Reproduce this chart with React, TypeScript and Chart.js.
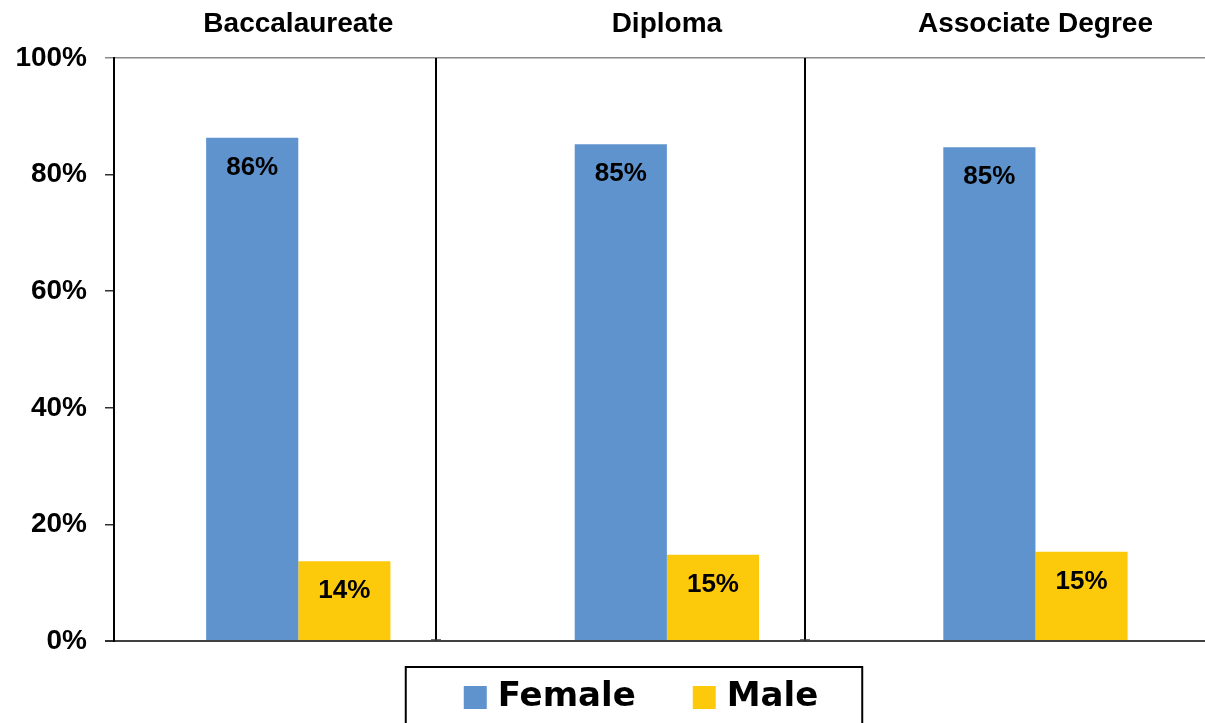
import React, { useEffect, useRef } from 'react';
import { Chart, registerables } from 'chart.js';

Chart.register(...registerables);

const categories = ['Baccalaureate', 'Diploma', 'Associate Degree'];
const seriesNames = ['Female', 'Male'];
const femaleValues = [86.3, 85.2, 84.7];
const maleValues = [13.7, 14.8, 15.3];
const seriesColors = ['#5E93CD', '#FDCA0B'];
const yTickLabels = ['0%', '20%', '40%', '60%', '80%', '100%'];

const FONT = '"Liberation Sans", Arial, sans-serif';
const LEGEND_FONT = '"DejaVu Sans", sans-serif';

export default function App() {
  const ref = useRef<HTMLCanvasElement | null>(null);

  useEffect(() => {
    document.body.style.margin = '0';
    const canvas = ref.current;
    if (!canvas) return;

    const dataLabels = {
      id: 'dataLabels',
      afterDatasetsDraw(chart: any) {
        const ctx = chart.ctx;
        ctx.save();
        ctx.font = `bold 26px ${FONT}`;
        ctx.fillStyle = '#000';
        ctx.textAlign = 'center';
        ctx.textBaseline = 'middle';
        chart.data.datasets.forEach((ds: any, i: number) => {
          const meta = chart.getDatasetMeta(i);
          meta.data.forEach((bar: any, j: number) => {
            const v = ds.data[j].y;
            ctx.fillText(`${Math.round(v)}%`, bar.x, bar.y + 30);
          });
        });
        ctx.restore();
      },
    };

    const dividers = {
      id: 'dividers',
      afterDatasetsDraw(chart: any) {
        const ctx = chart.ctx;
        const xs = chart.scales.x;
        const { top, bottom } = chart.chartArea;
        ctx.save();
        ctx.strokeStyle = '#000';
        ctx.lineWidth = 2;
        for (let i = 0; i < categories.length - 1; i++) {
          const px = Math.round(xs.getPixelForValue(i + 0.374));
          ctx.beginPath();
          ctx.moveTo(px, top);
          ctx.lineTo(px, bottom);
          ctx.stroke();
          ctx.beginPath();
          ctx.lineWidth = 1.5;
          ctx.strokeStyle = '#404040';
          ctx.moveTo(px - 5, bottom - 1);
          ctx.lineTo(px + 5, bottom - 1);
          ctx.stroke();
          ctx.lineWidth = 2;
          ctx.strokeStyle = '#000';
        }
        ctx.restore();
      },
    };

    const boxedLegend = {
      id: 'boxedLegend',
      afterDraw(chart: any) {
        const ctx = chart.ctx;
        const base = chart.chartArea.bottom;
        const sq = 23;
        const gap = 11;
        const itemGap = 57;
        const centerX = 641;
        ctx.save();
        ctx.font = `bold 34px ${LEGEND_FONT}`;
        const items = chart.data.datasets.map((d: any) => ({
          label: d.label,
          color: d.backgroundColor,
          w: ctx.measureText(d.label).width,
        }));
        const total =
          items.reduce((a: number, it: any) => a + sq + gap + it.w, 0) +
          itemGap * (items.length - 1);
        let x = centerX - total / 2;
        const boxLeft = x - 58;
        const boxRight = x + total + 44;
        const boxTop = base + 26;
        ctx.strokeStyle = '#000';
        ctx.lineWidth = 2;
        ctx.strokeRect(boxLeft, boxTop, boxRight - boxLeft, chart.height + 10 - boxTop);
        ctx.textBaseline = 'alphabetic';
        ctx.textAlign = 'left';
        items.forEach((it: any) => {
          ctx.fillStyle = it.color;
          ctx.fillRect(x, base + 45, sq, sq);
          ctx.fillStyle = '#000';
          ctx.fillText(it.label, x + sq + gap, base + 65);
          x += sq + gap + it.w + itemGap;
        });
        ctx.restore();
      },
    };

    const seriesValues = [femaleValues, maleValues];

    const chart = new Chart(canvas, {
      type: 'bar',
      data: {
        datasets: seriesNames.map((name, s) => ({
          label: name,
          data: seriesValues[s].map((v, i) => ({ x: i, y: v })),
          backgroundColor: seriesColors[s],
          borderWidth: 0,
          categoryPercentage: 0.5,
          barPercentage: 1.0,
        })),
      },
      options: {
        responsive: false,
        animation: false,
        devicePixelRatio: 1,
        layout: { padding: { top: 0, left: 0, right: 0, bottom: 82 } },
        plugins: {
          legend: { display: false },
          tooltip: { enabled: false },
          title: { display: false },
        },
        scales: {
          x: {
            type: 'linear',
            position: 'top',
            offset: false,
            bounds: 'data',
            min: -0.5,
            max: 2.46,
            afterBuildTicks: (scale: any) => {
              scale.ticks = categories.map((_, i) => ({ value: i }));
            },
            afterFit: (scale: any) => {
              scale.height = 58;
            },
            grid: { display: false, drawTicks: false, offset: false },
            border: { display: false },
            ticks: {
              autoSkip: false,
              maxRotation: 0,
              minRotation: 0,
              padding: 17,
              color: '#000',
              font: { family: FONT, size: 28, weight: 'bold' },
              callback: (value: any) => categories[value] ?? '',
            },
          },
          y: {
            type: 'linear',
            min: 0,
            max: 100,
            afterFit: (scale: any) => {
              scale.width = 114;
            },
            afterBuildTicks: (scale: any) => {
              scale.ticks = yTickLabels.map((_, i) => ({ value: i * 20 }));
            },
            grid: {
              drawOnChartArea: true,
              drawTicks: true,
              tickLength: 9,
              color: (c: any) =>
                c.tick && c.tick.value === 0
                  ? '#404040'
                  : c.tick && c.tick.value === 100
                  ? '#8a8a8a'
                  : 'rgba(0,0,0,0)',
              tickColor: (c: any) =>
                c.tick && c.tick.value === 100 ? '#8a8a8a' : '#303030',
              lineWidth: (c: any) => (c.tick && c.tick.value === 0 ? 2 : 1.5),
            },
            border: { display: true, color: '#000', width: 2 },
            ticks: {
              padding: 18,
              color: '#000',
              font: { family: FONT, size: 28, weight: 'bold' },
              callback: (value: any) => yTickLabels[Math.round(value / 20)] ?? '',
            },
          },
        },
      },
      plugins: [dividers, dataLabels, boxedLegend],
    } as any);

    return () => chart.destroy();
  }, []);

  return (
    <div style={{ width: 1205, height: 723, background: '#fff' }}>
      <canvas ref={ref} width={1205} height={723} style={{ display: 'block', width: 1205, height: 723 }} />
    </div>
  );
}
